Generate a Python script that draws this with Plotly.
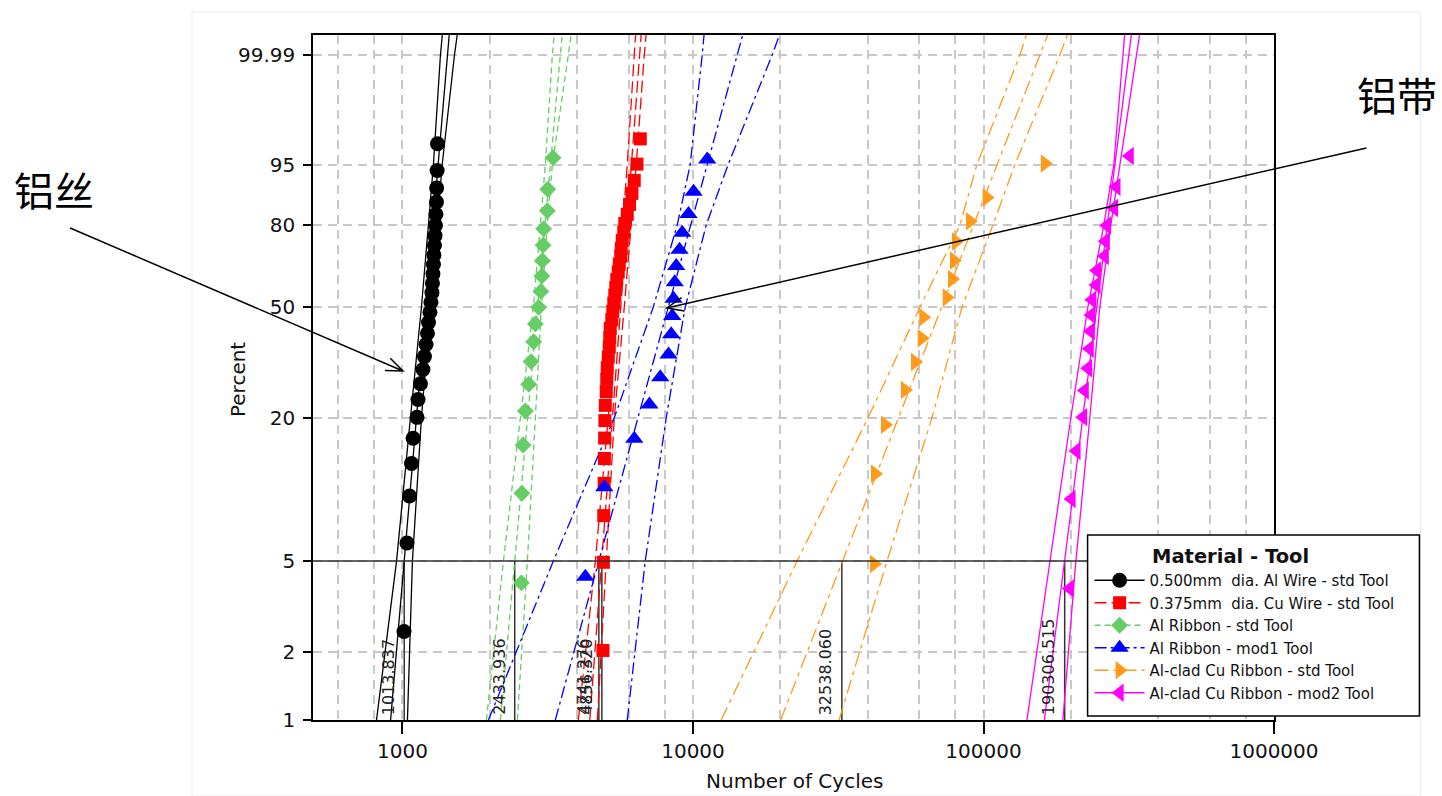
import numpy as np
import plotly.graph_objects as go

# ------------------------------------------------------------------ data
SERIES_NAMES = [
    "0.500mm\u00a0 dia. Al Wire - std Tool",
    "0.375mm\u00a0 dia. Cu Wire - std Tool",
    "Al Ribbon - std Tool",
    "Al Ribbon - mod1 Tool",
    "Al-clad Cu Ribbon - std Tool",
    "Al-clad Cu Ribbon - mod2 Tool",
]

# failure data (cycles) and plotting positions (percent)
AL_WIRE_CYCLES = [1012, 1036, 1057, 1074, 1088, 1122, 1131, 1153, 1176, 1190, 1205, 1219, 1229, 1243,
                  1253, 1263, 1268, 1273, 1278, 1283, 1288, 1294, 1299, 1304, 1309, 1311, 1316, 1320]
AL_WIRE_PCT = [2.46, 5.99, 9.51, 13.03, 16.55, 20.07, 23.59, 27.11, 30.63, 34.15, 37.68, 41.20, 44.72, 48.24,
               51.76, 55.28, 58.80, 62.32, 65.85, 69.37, 72.89, 76.41, 79.93, 83.45, 86.97, 90.49, 94.01, 97.54]

CU_WIRE_CYCLES = [4900, 4915, 4930, 4945, 4955, 4965, 4975, 4991, 5029, 5049, 5069, 5109, 5150, 5170, 5190,
                  5253, 5295, 5337, 5380, 5422, 5466, 5531, 5575, 5641, 5663, 5708, 5776, 5823, 5939, 6048,
                  6164, 6278, 6414, 6585]
CU_WIRE_PCT = [2.03, 4.94, 7.85, 10.76, 13.66, 16.57, 19.48, 22.38, 25.29, 28.20, 31.10, 34.01, 36.92, 39.83,
               42.73, 45.64, 48.55, 51.45, 54.36, 57.27, 60.17, 63.08, 65.99, 68.90, 71.80, 74.71, 77.62,
               80.52, 83.43, 86.34, 89.24, 92.15, 95.06, 97.97]

AL_RIB_STD_CYCLES = [2566, 2576, 2601, 2649, 2719, 2771, 2828, 2867, 2943, 2995, 3018, 3030, 3047, 3061,
                     3152, 3164, 3297]
AL_RIB_STD_PCT = [4.02, 9.77, 15.52, 21.26, 27.01, 32.76, 38.51, 44.25, 50.00, 55.75, 61.49, 67.24, 72.99,
                  78.74, 84.48, 90.23, 95.98]

AL_RIB_MOD1_CYCLES = [4260, 4951, 6278, 7080, 7715, 8237, 8416, 8482, 8570, 8652, 8756, 8988, 9180, 9652,
                      10042, 11193]
AL_RIB_MOD1_PCT = [4.27, 10.37, 16.46, 22.56, 28.66, 34.76, 40.85, 46.95, 53.05, 59.15, 65.24, 71.34, 77.44,
                   83.54, 89.63, 95.73]

CU_RIB_STD_CYCLES = [42000, 42330, 45810, 53680, 58100, 61280, 62060, 74680, 77900, 79130, 80400, 89810,
                     102520, 162660]
CU_RIB_STD_PCT = [4.86, 11.81, 18.75, 25.69, 32.64, 39.58, 46.53, 53.47, 60.42, 67.36, 74.31, 81.25, 88.19,
                  95.14]

CU_RIB_MOD2_CYCLES = [198300, 200950, 209070, 220300, 223280, 229210, 232270, 234150, 235460, 236930,
                      244950, 246060, 261600, 263660, 266400, 281580, 286990, 318830]
CU_RIB_MOD2_PCT = [3.80, 9.24, 14.67, 20.11, 25.54, 30.98, 36.41, 41.85, 47.28, 52.72, 58.15, 63.59, 69.02,
                   74.46, 79.89, 85.33, 90.76, 96.20]

# fitted Weibull lines (cycles read at these percents) and confidence bounds
FIT_PCT = [1, 99.999]
BOUND_PCT = [1, 5, 20, 50, 80, 95, 99.99, 99.999]

AL_WIRE_FIT = [910, 1450]
AL_WIRE_LOWER = [814, 954, 1065, 1162, 1228, 1278, 1351, 1373]
AL_WIRE_UPPER = [1040, 1082, 1162, 1250, 1315, 1370, 1510, 1546]

CU_WIRE_FIT = [4413, 6637]
CU_WIRE_LOWER = [4030, 4611, 5109, 5444, 5708, 5939, 6278, 6353]
CU_WIRE_UPPER = [4685, 5029, 5359, 5800, 6131, 6378, 6796, 6905]

AL_RIB_STD_FIT = [2173, 3549]
AL_RIB_STD_LOWER = [1945, 2225, 2546, 2821, 2983, 3103, 3280, 3332]
AL_RIB_STD_UPPER = [2486, 2691, 2867, 3006, 3152, 3280, 3723, 3813]

AL_RIB_MOD1_FIT = [3358, 14884]
AL_RIB_MOD1_LOWER = [1976, 3306, 5359, 7298, 8826, 9781, 10757, 10929]
AL_RIB_MOD1_UPPER = [5939, 6849, 8089, 9402, 11104, 13218, 18729, 19951]

CU_RIB_STD_FIT = [20030, 167220]
CU_RIB_STD_LOWER = [12503, 22830, 40050, 60450, 82990, 94930, 133440, 141090]
CU_RIB_STD_UPPER = [31830, 46550, 66480, 84310, 107750, 128260, 183190, 195170]

CU_RIB_MOD2_FIT = [162030, 323400]
CU_RIB_MOD2_LOWER = [141090, 169250, 199800, 228680, 259500, 280900, 301700, 306500]
CU_RIB_MOD2_UPPER = [187590, 207950, 232270, 251400, 274300, 294600, 337000, 345100]

# B5 life (cycles at 5 %)
B5_PCT = 5
B5_VALUES = [1013.837, 4856.320, 2433.936, 4741.276, 32538.060, 190306.515]
B5_LABELS = ["1013.837", "4856.320", "2433.936", "4741.276", "32538.060", "190306.515"]

Y_TICK_PCT = [1, 2, 5, 20, 50, 80, 95, 99.99]
Y_TICK_TEXT = ["1", "2", "5", "20", "50", "80", "95", "99.99"]
X_TICKS = [1000, 10000, 100000, 1000000]
X_TICK_TEXT = ["1000", "10000", "100000", "1000000"]
X_MINOR_GRID = [600, 800, 2000, 4000, 6000, 8000, 20000, 40000, 60000, 80000,
                200000, 400000, 600000, 800000]

# ------------------------------------------------------------------ styles
STYLES = [
    dict(color="#000000", symbol="circle", size=15, dash="solid"),
    dict(color="#ff0000", symbol="square", size=13, dash="12px,5px"),
    dict(color="#66cc66", symbol="diamond", size=13, dash="6px,4px"),
    dict(color="#0000ff", symbol="triangle-up", size=16, dash="12px,4px,3px,4px"),
    dict(color="#ff9a1a", symbol="triangle-right", size=16, dash="14px,5px,4px,5px"),
    dict(color="#ff00ff", symbol="triangle-left", size=16, dash="solid"),
]

DATA = [
    (AL_WIRE_CYCLES, AL_WIRE_PCT, AL_WIRE_FIT, AL_WIRE_LOWER, AL_WIRE_UPPER),
    (CU_WIRE_CYCLES, CU_WIRE_PCT, CU_WIRE_FIT, CU_WIRE_LOWER, CU_WIRE_UPPER),
    (AL_RIB_STD_CYCLES, AL_RIB_STD_PCT, AL_RIB_STD_FIT, AL_RIB_STD_LOWER, AL_RIB_STD_UPPER),
    (AL_RIB_MOD1_CYCLES, AL_RIB_MOD1_PCT, AL_RIB_MOD1_FIT, AL_RIB_MOD1_LOWER, AL_RIB_MOD1_UPPER),
    (CU_RIB_STD_CYCLES, CU_RIB_STD_PCT, CU_RIB_STD_FIT, CU_RIB_STD_LOWER, CU_RIB_STD_UPPER),
    (CU_RIB_MOD2_CYCLES, CU_RIB_MOD2_PCT, CU_RIB_MOD2_FIT, CU_RIB_MOD2_LOWER, CU_RIB_MOD2_UPPER),
]


def wb(p):
    """Weibull probability scale: ln(-ln(1-F))."""
    return np.log(-np.log(1.0 - np.asarray(p, dtype=float) / 100.0))


# ------------------------------------------------------------------ layout geometry (pixels)
W, H = 1442, 796
L, R, T, B = 313, 1274.5, 35, 720
PW, PH = R - L, B - T


def px(x):
    return (x - L) / PW


def py(y):
    return (B - y) / PH


Y_MIN = float(wb(1))
Y_MAX = float(wb(99.99)) + 20 / 97.5
X_MIN = np.log10(492)

FONT = "DejaVu Sans"
fig = go.Figure()

# B5 drop lines
for b5 in B5_VALUES:
    fig.add_trace(go.Scatter(x=[b5, b5], y=wb([B5_PCT, 1]), mode="lines",
                             line=dict(color="#333333", width=1.5), showlegend=False, hoverinfo="skip"))

# fit and confidence lines
for (cyc, pct, fit, lo, up), st in zip(DATA, STYLES):
    for xs, ps in ((lo, BOUND_PCT), (up, BOUND_PCT), (fit, FIT_PCT)):
        fig.add_trace(go.Scatter(x=xs, y=wb(ps), mode="lines",
                                 line=dict(color=st["color"], width=1.3, dash=st["dash"]),
                                 showlegend=False, hoverinfo="skip"))

# data points
for (cyc, pct, fit, lo, up), st, name in zip(DATA, STYLES, SERIES_NAMES):
    fig.add_trace(go.Scatter(x=cyc, y=wb(pct), mode="markers",
                             marker=dict(color=st["color"], symbol=st["symbol"], size=st["size"],
                                         line=dict(width=0)),
                             showlegend=False, name=name))

# legend entries
for st, name in zip(STYLES, SERIES_NAMES):
    fig.add_trace(go.Scatter(x=[None], y=[None], mode="lines+markers", name=name,
                             line=dict(color=st["color"], width=1.3, dash=st["dash"]),
                             marker=dict(color=st["color"], symbol=st["symbol"],
                                         size=st["size"], line=dict(width=0))))

grid = dict(gridcolor="#c8c8c8", gridwidth=1.5, griddash="9px,6px")

fig.update_xaxes(type="log", range=[X_MIN, 6], tickvals=X_TICKS, ticktext=X_TICK_TEXT,
                 ticks="outside", ticklen=12, tickwidth=1.5, tickcolor="#000",
                 showline=True, linecolor="#000", linewidth=1.5, mirror=True,
                 showgrid=True, zeroline=False, **grid,
                 minor=dict(tickvals=X_MINOR_GRID, showgrid=True, ticklen=0, **grid),
                 tickfont=dict(family=FONT, size=20, color="#111"))
fig.update_yaxes(range=[Y_MIN, Y_MAX], tickvals=wb(Y_TICK_PCT), ticktext=Y_TICK_TEXT,
                 ticks="outside", ticklen=8, tickwidth=1.5, tickcolor="#000",
                 showline=True, linecolor="#000", linewidth=1.5, mirror=True,
                 showgrid=True, zeroline=False, **grid, ticklabelstandoff=4,
                 tickfont=dict(family=FONT, size=20, color="#111"))

shapes = [
    # faint outer frame of the chart picture
    dict(type="rect", xref="paper", yref="paper", x0=px(192), x1=px(1421), y0=py(796), y1=py(12),
         line=dict(color="#ededed", width=1), layer="below"),
    # 5 % reference line
    dict(type="line", xref="paper", yref="y", x0=0, x1=1, y0=float(wb(B5_PCT)), y1=float(wb(B5_PCT)),
         line=dict(color="#333333", width=1.5), layer="above"),
    # legend box
    dict(type="rect", xref="paper", yref="paper", x0=px(1088), x1=px(1420), y0=py(716), y1=py(535),
         line=dict(color="#000", width=1.5), fillcolor="white", layer="above"),
    # arrows
    dict(type="path", xref="paper", yref="paper",
         path=f"M{px(70)},{py(228)} L{px(403)},{py(371)} M{px(390.3)},{py(358.2)} L{px(403)},{py(371)} "
              f"L{px(385)},{py(370.6)}",
         line=dict(color="#000", width=1.5), layer="above"),
    dict(type="path", xref="paper", yref="paper",
         path=f"M{px(1367)},{py(148)} L{px(667)},{py(308)} M{px(684.8)},{py(310.9)} L{px(667)},{py(308)} "
              f"L{px(681.8)},{py(297.7)}",
         line=dict(color="#000", width=1.5), layer="above"),
]

annotations = [
    dict(text="Percent", xref="paper", yref="paper", x=px(238), y=py(380), textangle=-90,
         xanchor="center", yanchor="middle", showarrow=False,
         font=dict(family=FONT, size=20, color="#111")),
    dict(text="Number of Cycles", xref="paper", yref="paper", x=px(795), y=py(781),
         xanchor="center", yanchor="middle", showarrow=False,
         font=dict(family=FONT, size=20, color="#111")),
    dict(text="<b>Material - Tool</b>", xref="paper", yref="paper", x=px(1150), y=py(556),
         xanchor="left", yanchor="middle", showarrow=False,
         font=dict(family=FONT, size=19.5, color="#111")),
    dict(text="铝丝", xref="paper", yref="paper", x=px(54), y=py(189), xanchor="center",
         yanchor="middle", showarrow=False,
         font=dict(family="Noto Sans CJK SC", size=40, color="#000")),
    dict(text="铝带", xref="paper", yref="paper", x=px(1398), y=py(94), xanchor="center",
         yanchor="middle", showarrow=False,
         font=dict(family="Noto Sans CJK SC", size=40, color="#000")),
]
for b5, lab in zip(B5_VALUES, B5_LABELS):
    annotations.append(dict(text=lab, x=np.log10(b5), y=Y_MIN, xref="x", yref="y", textangle=-90,
                            xanchor="center", yanchor="bottom", xshift=-16, yshift=3, showarrow=False,
                            font=dict(family=FONT, size=16, color="#222")))

fig.update_layout(
    width=W, height=H, autosize=False,
    margin=dict(l=L, r=W - R, t=T, b=H - B, pad=0),
    paper_bgcolor="white", plot_bgcolor="white",
    shapes=shapes, annotations=annotations,
    legend=dict(x=px(1090), y=py(564), xanchor="left", yanchor="top", bgcolor="rgba(0,0,0,0)",
                borderwidth=0, itemwidth=50, tracegroupgap=0,
                font=dict(family=FONT, size=15, color="#111")),
    showlegend=True,
)

fig.write_html("out.html", post_script="document.body.style.margin='0';")
